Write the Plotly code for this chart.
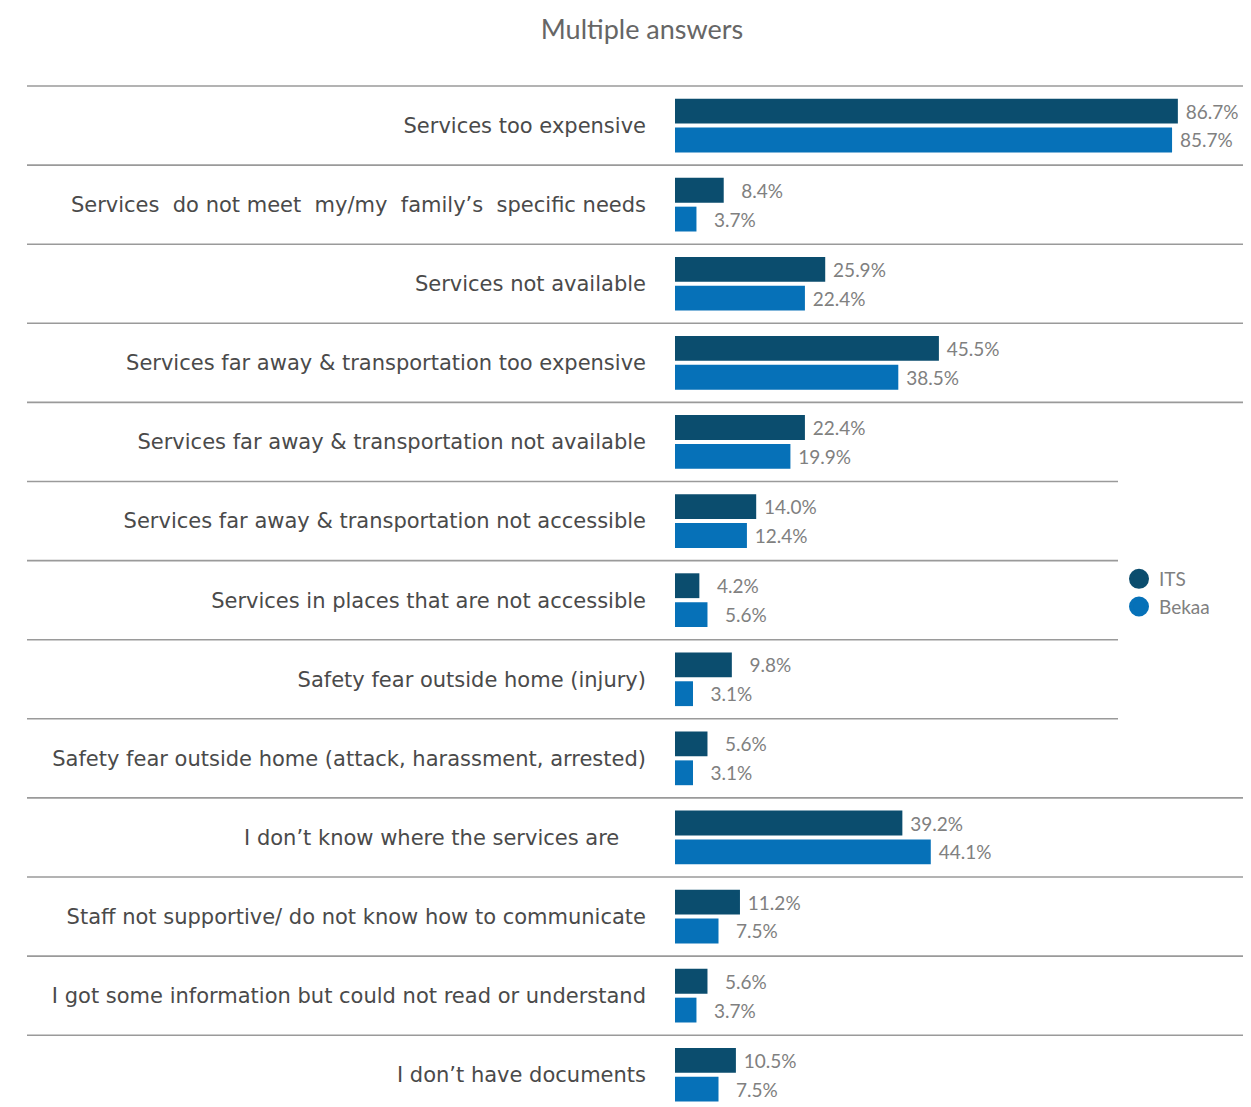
import plotly.graph_objects as go

categories = [
    "Services too expensive",
    "Services  do not meet  my/my  family’s  specific needs",
    "Services not available",
    "Services far away & transportation too expensive",
    "Services far away & transportation not available",
    "Services far away & transportation not accessible",
    "Services in places that are not accessible",
    "Safety fear outside home (injury)",
    "Safety fear outside home (attack, harassment, arrested)",
    "I don’t know where the services are\u00a0\u00a0\u00a0\u00a0",
    "Staff not supportive/ do not know how to communicate",
    "I got some information but could not read or understand",
    "I don’t have documents",
]
its = [86.7, 8.4, 25.9, 45.5, 22.4, 14.0, 4.2, 9.8, 5.6, 39.2, 11.2, 5.6, 10.5]
bekaa = [85.7, 3.7, 22.4, 38.5, 19.9, 12.4, 5.6, 3.1, 3.1, 44.1, 7.5, 3.7, 7.5]
series_names = ["ITS", "Bekaa"]
colors = ["#0b4d6e", "#0671b8"]

pos = list(range(len(categories)))
# page body has an 8px margin; figure coordinates are screen minus 8
W, H = 1235, 1099
L, T = 667, 78
row_px = 79.1
y_top, y_bot = -0.5, -0.5 + (H - T) / row_px
x_max = (W - L) / 5.80


def label(v):
    pad = "\u00a0" * (3 if v < 10 else 1)
    return f"{pad}{v:.1f}%"


fig = go.Figure()
for name, vals, col in zip(series_names, [its, bekaa], colors):
    fig.add_trace(go.Bar(
        y=pos, x=vals, orientation="h", name=name, marker_color=col,
        marker_line_width=0, showlegend=False,
        text=[label(v) for v in vals], textposition="outside",
        textfont=dict(family="Lato", size=19, color="#808080"),
        cliponaxis=False, hoverinfo="skip",
    ))
    fig.add_trace(go.Scatter(
        x=[None], y=[None], mode="markers", name=name,
        marker=dict(symbol="circle", size=16, color=col, line=dict(color=col, width=4)),
    ))

# separator lines between rows
shapes = []
for i in range(len(categories)):
    yb = i - 0.5
    yp = (y_bot - yb) / (y_bot - y_top)
    right = (1110 - L) / (W - L) if 5 <= i <= 8 else 1.0
    shapes.append(dict(type="line", xref="paper", yref="paper",
                       x0=(19 - L) / (W - L), x1=right, y0=yp, y1=yp,
                       line=dict(color="#9a9a9a", width=1.6)))

fig.update_layout(
    width=W, height=H,
    margin=dict(l=L, r=0, t=T, b=0),
    plot_bgcolor="white", paper_bgcolor="white",
    barmode="group", bargap=0.27, bargroupgap=0.14,
    shapes=shapes,
    xaxis=dict(range=[0, x_max], visible=False, fixedrange=True),
    yaxis=dict(range=[y_bot, y_top], tickvals=pos, ticktext=categories,
               showgrid=False, zeroline=False, showline=False, ticks="",
               ticklabelstandoff=28,
               tickfont=dict(family="DejaVu Sans", size=21, color="#4a4a4a")),
    legend=dict(x=(1111 - L) / (W - L), y=1 - (552 - T) / (H - T),
                xanchor="left", yanchor="top", bgcolor="rgba(0,0,0,0)",
                font=dict(family="Lato", size=19, color="#808080"),
                itemwidth=30, tracegroupgap=0),
    title=dict(text="Multiple answers", x=634 / W, xref="container", xanchor="center",
               y=1 - 22 / H, yref="container", yanchor="middle",
               font=dict(family="Lato", size=27, color="#666666")),
)

fig.write_html("out.html")
